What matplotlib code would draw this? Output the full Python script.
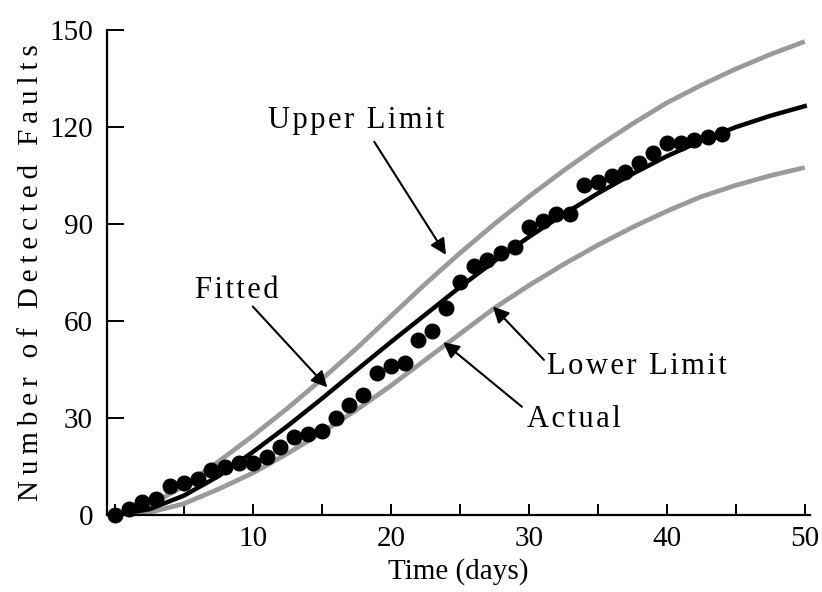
import matplotlib
matplotlib.use("Agg")
import matplotlib.pyplot as plt

# observed data (one point per day)
days = list(range(0, 45))
faults = [0, 2, 4, 5, 9, 10, 11, 14, 15, 16,
          16, 18, 21, 24, 25, 26, 30, 34, 37, 44,
          46, 47, 54, 57, 64, 72, 77, 79, 81, 83,
          89, 91, 93, 93, 102, 103, 105, 106, 109, 112,
          115, 115, 116, 117, 118]

# curves every 2.5 days
t_curve = [0, 2.5, 5, 7.5, 10, 12.5, 15, 17.5, 20, 22.5, 25,
           27.5, 30, 32.5, 35, 37.5, 40, 42.5, 45, 47.5, 50]
fitted = [0, 1.8, 6, 12, 19.5, 27.5, 36, 44.8, 53.5, 62, 70.5,
          78.5, 86, 93, 99.5, 105.5, 111, 115.8, 120, 123.5, 126.5]
upper = [0, 3, 9, 16.5, 24.5, 33, 42, 51.5, 61.5, 71.5, 81,
         90, 98.5, 106.5, 114, 121, 127.5, 133, 138, 142.5, 146.5]
lower = [0, 0.8, 3.5, 8, 13, 19, 25.5, 32.5, 40, 48, 56,
         64, 71, 77.5, 83.5, 89, 94, 98.5, 102, 105, 107.5]

plt.rcParams['font.family'] = ['Liberation Serif', 'DejaVu Serif']
FS = 21


def spaced(s, gap):
    # the original lettering is loosely tracked
    return gap.join(s)


THIN = '\u2009'
HAIR = '\u200a'

fig = plt.figure(figsize=(8.22, 5.92), dpi=100)
ax = fig.add_axes([0.130, 0.130, 0.855, 0.819])

ax.plot(t_curve, upper, color='#9a9a9a', lw=3.4, solid_capstyle='butt')
ax.plot(t_curve, lower, color='#9a9a9a', lw=3.4, solid_capstyle='butt')
ax.plot(t_curve, fitted, color='black', lw=3.2)
ax.plot(days, faults, 'o', color='black', ms=10.5, clip_on=False, zorder=5)

ax.set_xlim(-0.58, 50.36)
ax.set_ylim(0, 150)

ax.spines['top'].set_visible(False)
ax.spines['right'].set_visible(False)
ax.spines['left'].set_linewidth(1.6)
ax.spines['bottom'].set_linewidth(1.6)

ax.set_xticks(range(0, 51, 5))
ax.set_xticklabels(['' if v % 10 or v == 0 else str(v) for v in range(0, 51, 5)])
ax.set_yticks(range(0, 151, 30))
ax.tick_params(axis='x', direction='in', length=8, width=1.4, labelsize=FS, pad=8)
ax.tick_params(axis='y', direction='in', length=12, width=1.4, labelsize=FS, pad=10)

ax.set_xlabel('Time (days)', fontsize=FS, labelpad=4)
ax.set_ylabel(spaced('Number of Detected Faults', THIN), fontsize=FS, labelpad=4)

arrow = dict(arrowstyle='-|>', color='black', lw=1.5, mutation_scale=24,
             shrinkA=0, shrinkB=0)
AFS = 22

ax.text(17.5, 122, spaced('Upper Limit', HAIR), fontsize=AFS, ha='center', va='center')
ax.annotate('', xy=(24.0, 80.5), xytext=(18.8, 115.5), arrowprops=arrow)

ax.text(8.8, 69.5, spaced('Fitted', HAIR), fontsize=AFS, ha='center', va='center')
ax.annotate('', xy=(15.4, 39.5), xytext=(10.0, 64.5), arrowprops=arrow)

ax.text(31.3, 46, spaced('Lower Limit', HAIR), fontsize=AFS, ha='left', va='center')
ax.annotate('', xy=(27.4, 64.5), xytext=(31.1, 48.0), arrowprops=arrow)

ax.text(33.3, 29.5, spaced('Actual', HAIR), fontsize=AFS, ha='center', va='center')
ax.annotate('', xy=(23.8, 53.5), xytext=(29.5, 33.5), arrowprops=arrow)

fig.savefig('out.png', dpi=100)
